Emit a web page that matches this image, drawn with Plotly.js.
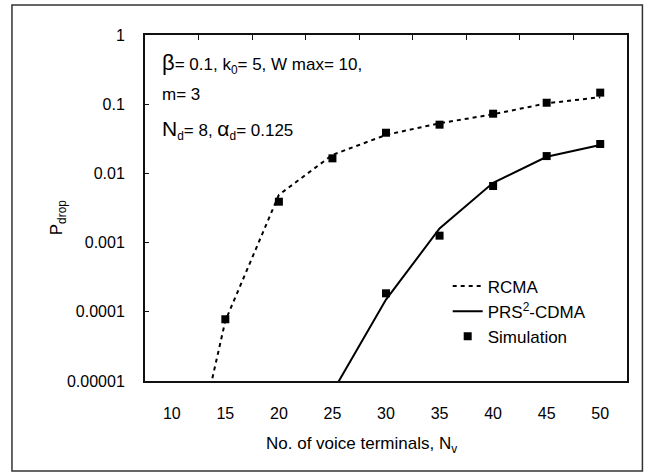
<!DOCTYPE html>
<html>
<head>
<meta charset="utf-8">
<script src="https://cdn.plot.ly/plotly-3.0.1.min.js"></script>
<style>
  html, body { margin: 0; padding: 0; background: #fff; }
  #chart { width: 650px; height: 476px; }
</style>
</head>
<body>
<div id="chart"></div>
<script>
// Number of voice terminals (analysis curves)
const nvCurve = [10, 15, 20, 25, 30, 35, 40, 45, 50];
// Analytical drop probability, RCMA
const rcmaCurve = [2.8e-8, 7.4e-5, 0.0049, 0.0185, 0.036, 0.053, 0.0715, 0.103, 0.126];
// Analytical drop probability, PRS2-CDMA
const nvPrs = [25, 30, 35, 40, 45, 50];
const prsCurve = [6.9e-6, 0.00015, 0.0016, 0.0073, 0.0174, 0.0257];

// Simulation results
const nvSimRcma = [15, 20, 25, 30, 35, 40, 45, 50];
const simRcma = [7.8e-5, 0.0039, 0.0165, 0.0387, 0.0506, 0.0729, 0.105, 0.147];
const nvSimPrs = [30, 35, 40, 45, 50];
const simPrs = [0.000185, 0.00126, 0.00658, 0.0178, 0.0266];

// Axis ticks
const xTicks = [10, 15, 20, 25, 30, 35, 40, 45, 50];
const xTopTicks = [12.5, 17.5, 22.5, 27.5, 32.5, 37.5, 42.5, 47.5];
const yTicks = [0.00001, 0.0001, 0.001, 0.01, 0.1, 1];
const yTickText = ["0.00001", "0.0001", "0.001", "0.01", "0.1", "1"];

const FONT = "Liberation Sans, Arial, sans-serif";
const TXT = { family: FONT, size: 17, color: "#000" };

const traces = [
  {
    x: nvCurve, y: rcmaCurve, type: "scatter", mode: "lines", name: "RCMA",
    line: { color: "#000", width: 2, dash: "4px,4px" }
  },
  {
    x: nvPrs, y: prsCurve, type: "scatter", mode: "lines", name: "PRS<sup>2</sup>-CDMA",
    line: { color: "#000", width: 2 }
  },
  {
    x: nvSimRcma, y: simRcma, type: "scatter", mode: "markers", name: "Simulation",
    marker: { symbol: "square", size: 8, color: "#000" }, cliponaxis: false
  },
  {
    x: nvSimPrs, y: simPrs, type: "scatter", mode: "markers", name: "Simulation",
    marker: { symbol: "square", size: 8, color: "#000" }, showlegend: false
  },
  // carrier for the top tick marks
  { x: [], y: [], xaxis: "x2", yaxis: "y", showlegend: false, hoverinfo: "skip" }
];

const layout = {
  width: 650, height: 476,
  margin: { l: 145, r: 23, t: 35, b: 95 },
  paper_bgcolor: "#fff", plot_bgcolor: "#fff",
  font: TXT,
  showlegend: true,
  legend: {
    x: 0.628, y: 0.325, xanchor: "left", yanchor: "top",
    bgcolor: "rgba(0,0,0,0)", font: TXT,
    tracegroupgap: 0
  },
  xaxis: {
    type: "linear", range: [7.5, 52.5],
    tickmode: "array", tickvals: xTicks, ticktext: xTicks.map(String),
    ticks: "", showgrid: false, zeroline: false,
    showline: true, mirror: true, linecolor: "#111", linewidth: 2,
    ticklabelstandoff: 17,
    tickfont: { family: FONT, size: 16, color: "#000" }
  },
  xaxis2: {
    overlaying: "x", side: "top", range: [7.5, 52.5],
    tickmode: "array", tickvals: xTopTicks, showticklabels: false,
    ticks: "inside", ticklen: 5, tickwidth: 1, tickcolor: "#111",
    showgrid: false, zeroline: false, showline: false
  },
  yaxis: {
    type: "log", range: [-5, 0],
    tickmode: "array", tickvals: yTicks, ticktext: yTickText,
    ticks: "inside", ticklen: 4, tickwidth: 1, tickcolor: "#111",
    showgrid: false, zeroline: false,
    showline: true, mirror: true, linecolor: "#111", linewidth: 2,
    ticklabelstandoff: 15,
    tickfont: { family: FONT, size: 16, color: "#000" }
  },
  shapes: [
    {
      type: "rect", xref: "paper", yref: "paper",
      x0: -0.276, x1: 1.032, y0: -0.26, y1: 1.0867,
      line: { color: "#333", width: 1.5 }, fillcolor: "rgba(0,0,0,0)", layer: "below"
    }
  ],
  annotations: [
    {
      xref: "paper", yref: "paper", x: 0.031, y: 0.918, xanchor: "left", yanchor: "middle",
      showarrow: false, font: TXT,
      text: "<span style='font-size:22px'>β</span>= 0.1, k<sub>0</sub>= 5, W max= 10,"
    },
    {
      xref: "paper", yref: "paper", x: 0.031, y: 0.829, xanchor: "left", yanchor: "middle",
      showarrow: false, font: TXT,
      text: "m= 3"
    },
    {
      xref: "paper", yref: "paper", x: 0.031, y: 0.725, xanchor: "left", yanchor: "middle",
      showarrow: false, font: TXT,
      text: "<span style='font-size:21px'>N</span><sub>d</sub>= 8, <span style='font-size:21px'>α</span><sub>d</sub>= 0.125"
    },
    {
      xref: "paper", yref: "paper", x: -0.18, y: 0.474, xanchor: "center", yanchor: "middle",
      showarrow: false, textangle: -90, font: TXT,
      text: "P<sub>drop</sub>"
    },
    {
      xref: "paper", yref: "paper", x: 0.45, y: -0.185, xanchor: "center", yanchor: "middle",
      showarrow: false, font: TXT,
      text: "No. of voice terminals, N<sub>v</sub>"
    }
  ]
};

Plotly.newPlot("chart", traces, layout, { displayModeBar: false, staticPlot: true });
</script>
</body>
</html>
